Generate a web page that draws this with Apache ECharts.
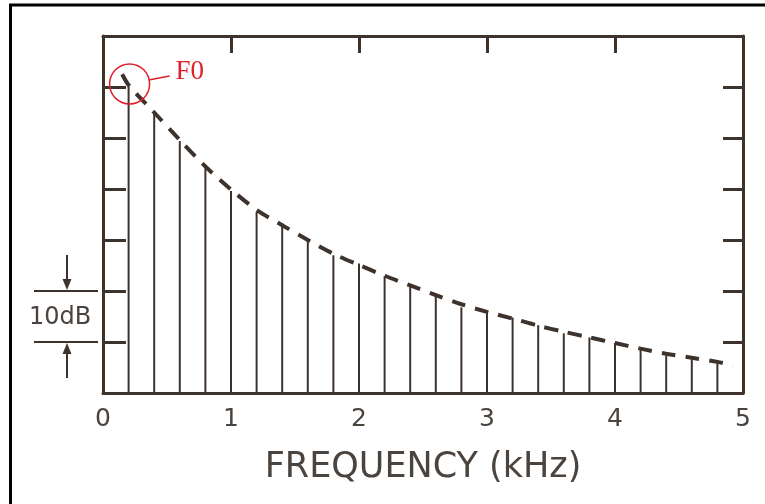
<!DOCTYPE html>
<html>
<head>
<meta charset="utf-8">
<script src="https://cdn.jsdelivr.net/npm/echarts@6/dist/echarts.min.js"></script>
<style>
html,body{margin:0;padding:0;background:#fff;}
#c{width:765px;height:504px;}
</style>
</head>
<body>
<div id="c"></div>
<script>
// Harmonic frequencies (kHz) and levels (dB)
var harmonicFreqs = [0.2,0.4,0.6,0.8,1.0,1.2,1.4,1.6,1.8,2.0,2.2,2.4,2.6,2.8,3.0,3.2,3.4,3.6,3.8,4.0,4.2,4.4,4.6,4.8];
var harmonicLevels = [60.2,54.9,49.4,44.1,39.6,35.5,33.2,29.9,27.0,25.4,22.9,20.9,19.5,16.8,15.8,14.8,13.3,11.7,10.9,9.8,8.4,7.4,7.0,6.1];
// Dashed spectral envelope
var envelopeFreqs = [0.15,0.2,0.4,0.6,0.8,1.0,1.2,1.4,1.6,1.8,2.0,2.2,2.4,2.6,2.8,3.0,3.2,3.4,3.6,3.8,4.0,4.2,4.4,4.6,4.8,4.92];
var envelopeLevels = [62.5,60.4,55.0,49.6,44.4,39.9,35.9,32.9,30.0,27.3,25.1,23.0,21.1,19.2,17.4,15.9,14.6,13.2,12.0,10.9,9.8,8.7,7.7,6.9,6.1,5.4];
var xTickLabels = ['0','1','2','3','4','5'];
var xTitle = 'FREQUENCY (kHz)';
var scaleLabel = '10dB';
var f0Label = 'F0';

var ink = '#3d322c';
var textInk = '#4a433e';

var chart = echarts.init(document.getElementById('c'), null, {renderer:'canvas'});

var stemData = harmonicFreqs.map(function(f,i){return [f, harmonicLevels[i]];});
var envData = envelopeFreqs.map(function(f,i){return [f, envelopeLevels[i]];});

chart.setOption({
  backgroundColor:'#fff',
  animation:false,
  grid:{left:103, right:22, top:36, bottom:111, show:false},
  xAxis:[{
    type:'value', min:0, max:5, interval:1, position:'bottom',
    axisLine:{show:true, onZero:false, lineStyle:{color:ink, width:3}},
    axisTick:{show:false},
    splitLine:{show:false},
    axisLabel:{color:textInk, fontSize:25, fontFamily:'DejaVu Sans', margin:14,
      formatter:function(v){return xTickLabels[Math.round(v)];}},
    name:xTitle, nameLocation:'middle', nameGap:57,
    nameTextStyle:{color:textInk, fontSize:35, fontFamily:'DejaVu Sans'}
  },{
    type:'value', min:0, max:5, interval:1, position:'top',
    axisLine:{show:true, onZero:false, lineStyle:{color:ink, width:3}},
    axisTick:{show:true, inside:true, length:17, lineStyle:{color:ink, width:3}},
    axisLabel:{show:false}, splitLine:{show:false}
  }],
  yAxis:[{
    type:'value', min:0, max:70, interval:10, position:'left',
    axisLine:{show:true, onZero:false, lineStyle:{color:ink, width:3}},
    axisTick:{show:true, inside:true, length:23, lineStyle:{color:ink, width:3}},
    axisLabel:{show:false}, splitLine:{show:false}
  },{
    type:'value', min:0, max:70, interval:10, position:'right',
    axisLine:{show:true, onZero:false, lineStyle:{color:ink, width:3}},
    axisTick:{show:true, inside:true, length:20, lineStyle:{color:ink, width:3}},
    axisLabel:{show:false}, splitLine:{show:false}
  }],
  series:[{
    type:'bar', data:stemData, barWidth:2, itemStyle:{color:ink}, z:3
  },{
    type:'line', data:envData, smooth:0.3, showSymbol:false, symbol:'none',
    lineStyle:{color:ink, width:4, type:[14,10], cap:'butt'}, z:4
  }]
});

function px(f, db){ return chart.convertToPixel({xAxisIndex:0, yAxisIndex:0}, [f, db]); }
var y20 = px(0,20)[1], y10 = px(0,10)[1];
var f0 = px(harmonicFreqs[0], harmonicLevels[0]);
var cx = f0[0]+1, cy = f0[1]-2;

chart.setOption({
  graphic:[
    {type:'rect', shape:{x:10.5, y:5, width:800, height:600}, style:{fill:null, stroke:'#000', lineWidth:3}, silent:true},
    // 10 dB scale bar
    {type:'line', shape:{x1:34, y1:y20, x2:98, y2:y20}, style:{stroke:ink, lineWidth:2}},
    {type:'line', shape:{x1:34, y1:y10, x2:98, y2:y10}, style:{stroke:ink, lineWidth:2}},
    {type:'line', shape:{x1:67, y1:y20-36, x2:67, y2:y20-10}, style:{stroke:ink, lineWidth:2}},
    {type:'polygon', shape:{points:[[62.5,y20-12],[71.5,y20-12],[67,y20-1]]}, style:{fill:ink}},
    {type:'line', shape:{x1:67, y1:y10+36, x2:67, y2:y10+10}, style:{stroke:ink, lineWidth:2}},
    {type:'polygon', shape:{points:[[62.5,y10+12],[71.5,y10+12],[67,y10+1]]}, style:{fill:ink}},
    {type:'text', x:60, y:(y10+y20)/2+1, style:{text:scaleLabel, fill:textInk, font:'24px "DejaVu Sans"', align:'center', verticalAlign:'middle'}},
    // F0 annotation
    {type:'circle', shape:{cx:cx, cy:cy, r:20}, style:{fill:null, stroke:'#e0202a', lineWidth:1.5}, z:10},
    {type:'line', shape:{x1:cx+19, y1:cy-4, x2:cx+40, y2:cy-8}, style:{stroke:'#e0202a', lineWidth:1.5}, z:10},
    {type:'text', x:cx+46, y:cy-12, style:{text:f0Label, fill:'#e0202a', font:'27px "Liberation Serif"', align:'left', verticalAlign:'middle'}, z:10}
  ]
});
</script>
</body>
</html>
